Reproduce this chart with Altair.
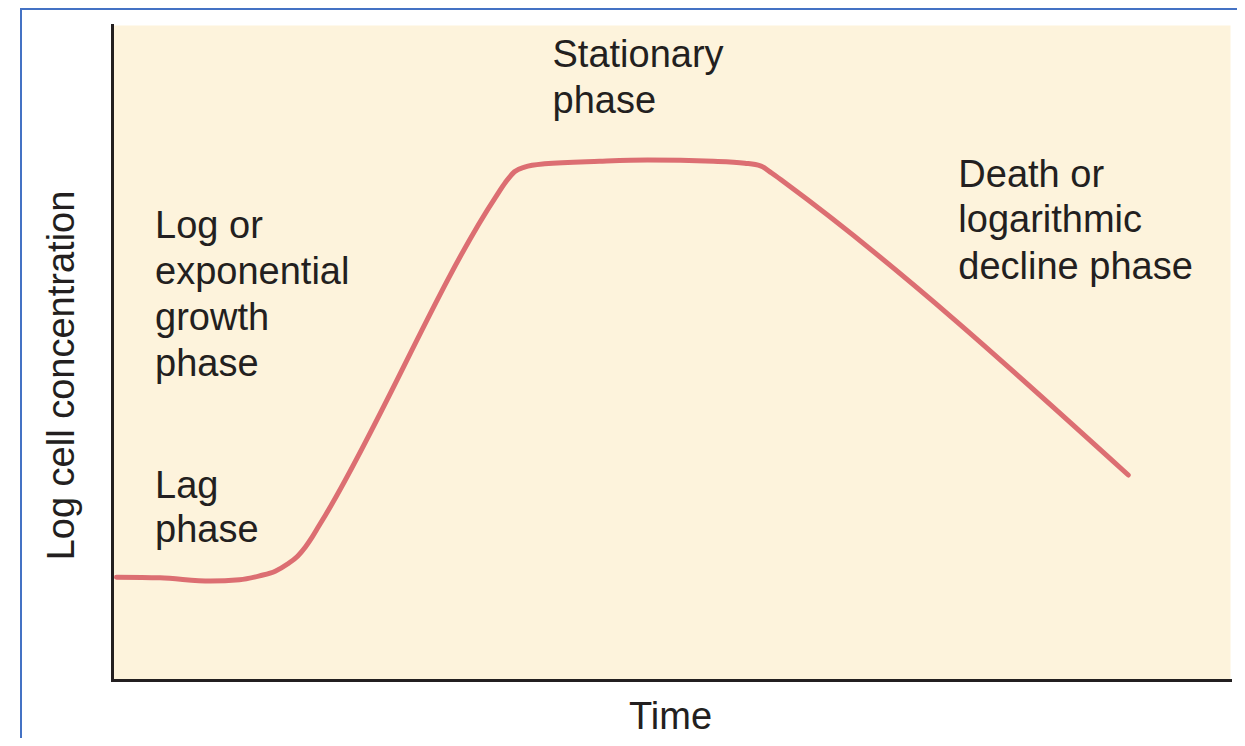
import altair as alt
import pandas as pd

# Growth curve (time units 0-100, log concentration units 0-100)
curve_time = [0.4, 4.3, 8.8, 11.4, 13.2, 14.6, 15.7, 16.6, 17.3, 17.9, 18.5, 19.1,
              34.3, 35.2, 36.0, 36.9, 38.7, 43.6, 47.9, 53.8, 56.6, 58.0, 59.0,
              60.2, 90.9]
curve_logc = [15.7, 15.6, 15.1, 15.3, 15.9, 16.6, 17.7, 18.9, 20.3, 21.8, 23.5, 25.2,
              73.7, 76.0, 77.6, 78.3, 78.8, 79.2, 79.4, 79.2, 78.9, 78.5, 77.4,
              75.9, 31.3]

# Phase labels (one row per text line)
label_text = ["Stationary", "phase",
              "Log or", "exponential", "growth", "phase",
              "Lag", "phase",
              "Death or", "logarithmic", "decline phase"]
label_time = [39.4, 39.4,
              3.85, 3.85, 3.85, 3.85,
              3.85, 3.85,
              75.7, 75.7, 75.7]
label_logc = [93.6, 86.6,
              67.5, 60.5, 53.4, 46.4,
              27.8, 21.1,
              75.3, 68.4, 61.2]

FONT = "Liberation Sans, Arial, Helvetica, sans-serif"
INK = "#231F20"
FS = 38
W, H = 1118, 655

curve_df = pd.DataFrame({"t": curve_time, "c": curve_logc})
label_df = pd.DataFrame({"label": label_text, "t": label_time, "c": label_logc})

x_scale = alt.Scale(domain=[0, 100], nice=False, zero=False)
y_scale = alt.Scale(domain=[0, 100], nice=False, zero=False)

x_axis = alt.Axis(
    title="Time", labels=False, ticks=False, grid=False,
    domainColor=INK, domainWidth=3, domainCap="square",
    titleFont=FONT, titleFontSize=FS, titleFontWeight="normal", titleColor=INK,
    titleBaseline="alphabetic", titleAlign="center", titleY=48, titleX=W / 2 - 1,
)
y_axis = alt.Axis(
    title="Log cell concentration", labels=False, ticks=False, grid=False,
    domainColor=INK, domainWidth=3, domainCap="square",
    titleFont=FONT, titleFontSize=FS, titleFontWeight="normal", titleColor=INK,
    titleAngle=270, titleBaseline="alphabetic", titleAlign="center",
    titleX=-39, titleY=350,
)

line = alt.Chart(curve_df).mark_line(
    color="#DC6E72", strokeWidth=5, interpolate="monotone", strokeCap="round"
).encode(
    x=alt.X("t:Q", scale=x_scale, axis=x_axis),
    y=alt.Y("c:Q", scale=y_scale, axis=y_axis),
)

labels = alt.Chart(label_df).mark_text(
    align="left", baseline="alphabetic", font=FONT, fontSize=FS, color=INK
).encode(
    x=alt.X("t:Q", scale=x_scale),
    y=alt.Y("c:Q", scale=y_scale),
    text="label:N",
)

frame_src = alt.Data(values=[{"k": 1}])
frame_left = alt.Chart(frame_src).mark_rule(color="#4472C4", strokeWidth=2).encode(
    x=alt.value(-91), y=alt.value(-16), y2=alt.value(H + 70)
)
frame_top = alt.Chart(frame_src).mark_rule(color="#4472C4", strokeWidth=2).encode(
    x=alt.value(-92), x2=alt.value(W + 10), y=alt.value(-16)
)

chart = alt.layer(frame_left, frame_top, line, labels).properties(
    width=W, height=H,
    autosize=alt.AutoSizeParams(type="none"),
    padding={"left": 104, "top": 17, "right": 7, "bottom": 58},
    background="white",
).configure_view(fill="#FDF3DC", stroke="transparent")

chart.save("out.html", embed_options={"renderer": "svg", "actions": False})
